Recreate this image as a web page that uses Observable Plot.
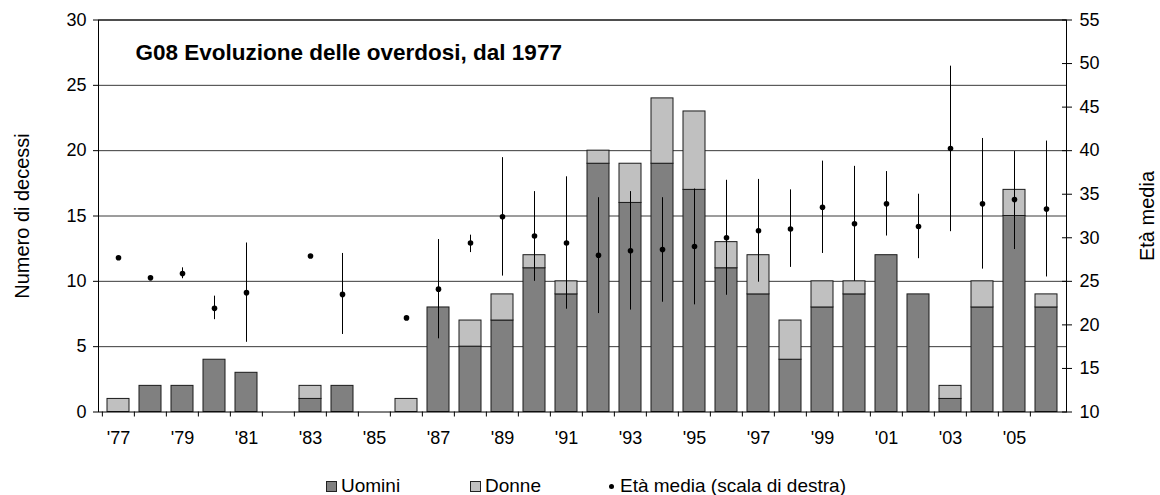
<!DOCTYPE html>
<html>
<head>
<meta charset="utf-8">
<script src="https://cdn.jsdelivr.net/npm/d3@7"></script>
<script src="https://cdn.jsdelivr.net/npm/@observablehq/plot@0.6"></script>
<style>
  html, body { margin: 0; padding: 0; background: #fff; }
  #wrap { position: relative; width: 1160px; height: 495px; font-family: "Liberation Sans", Arial, sans-serif; }
  #legend { position: absolute; left: 0; top: 475px; width: 1160px; height: 24px; font-size: 19px; color: #000; }
  .lg { position: absolute; top: 0; display: flex; align-items: center; white-space: nowrap; }
  .sw { display: inline-block; width: 9px; height: 9px; border: 1px solid #222; margin-right: 4px; }
  .dt { display: inline-block; width: 5px; height: 5px; border-radius: 50%; background: #000; margin-right: 6px; }
</style>
</head>
<body>
<div id="wrap">
  <div id="chart"></div>
  <div id="legend">
    <div class="lg" style="left:326px"><span class="sw" style="background:#808080"></span>Uomini</div>
    <div class="lg" style="left:470px"><span class="sw" style="background:#c0c0c0"></span>Donne</div>
    <div class="lg" style="left:609px"><span class="dt"></span>Età media (scala di destra)</div>
  </div>
</div>
<script>
// ---- data ----
const years = [1977,1978,1979,1980,1981,1982,1983,1984,1985,1986,1987,1988,1989,1990,1991,
               1992,1993,1994,1995,1996,1997,1998,1999,2000,2001,2002,2003,2004,2005,2006];
const uomini = [0,2,2,4,3,0,1,2,0,0,8,5,7,11,9,19,16,19,17,11,9,4,8,9,12,9,1,8,15,8];
const donne  = [1,0,0,0,0,0,1,0,0,1,0,2,2,1,1,1,3,5,6,2,3,3,2,1,0,0,1,2,2,1];
// mean age (null = no deaths), with range (min/max), null where no bar drawn
const etaMedia = [27.7,25.4,25.9,21.9,23.7,null,27.9,23.5,null,20.8,24.1,29.4,32.4,30.2,29.4,
                  28.0,28.5,28.65,29.0,30.0,30.8,31.0,33.5,31.6,33.9,31.3,40.25,33.9,34.4,33.3];
const etaMin = [null,null,25.3,20.6,18.0,null,null,18.9,null,null,18.4,28.3,25.6,25.0,21.8,
                21.3,21.7,22.6,22.3,23.4,24.9,26.6,28.2,25.0,30.2,27.6,30.7,26.4,28.65,25.5];
const etaMax = [null,null,26.55,23.3,29.4,null,null,28.2,null,null,29.8,30.3,39.2,35.3,37.0,
                34.6,35.3,34.6,35.6,36.6,36.7,35.5,38.8,38.2,37.6,35.0,49.7,41.4,39.9,41.1];
const leftTicks = [0,5,10,15,20,25,30];
const rightTicks = [10,15,20,25,30,35,40,45,50,55];
const labelYears = [1977,1979,1981,1983,1985,1987,1989,1991,1993,1995,1997,1999,2001,2003,2005];
const seriesNames = ["Uomini","Donne"];
const titleText = "G08 Evoluzione delle overdosi, dal 1977";
const yTitleLeft = "Numero di decessi";
const yTitleRight = "Età media";

// ---- build tables ----
const bars = [];
years.forEach((y, i) => {
  bars.push({year: y, serie: seriesNames[0], value: uomini[i]});
  bars.push({year: y, serie: seriesNames[1], value: donne[i]});
});
// map right-axis (age 10..55) onto left-axis units (0..30)
const ageToLeft = a => (a - 10) * 30 / 45;
const leftToAge = v => v * 45 / 30 + 10;
const ages = years.map((y, i) => ({year: y, mean: etaMedia[i], lo: etaMin[i], hi: etaMax[i]}));
const ageDots = ages.filter(d => d.mean != null);
const ageRanges = ages.filter(d => d.lo != null);

const W = 1160, ML = 98, MR = 94;
const step = (W - ML - MR) / years.length;

const chart = Plot.plot({
  width: W,
  height: 460,
  marginLeft: ML,
  marginRight: MR,
  marginTop: 19.5,
  marginBottom: 48.5,
  style: {fontFamily: "'Liberation Sans', Arial, sans-serif", fontSize: "18px", color: "#000", background: "#fff"},
  x: {type: "band", domain: years, paddingInner: 0.32, paddingOuter: 0.16},
  y: {domain: [0, 30]},
  color: {domain: seriesNames, range: ["#808080", "#c0c0c0"]},
  marks: [
    Plot.ruleY(leftTicks.filter(t => t > 0), {stroke: "#3a3a3a", strokeWidth: 1}),
    Plot.barY(bars, {x: "year", y: "value", fill: "serie", stroke: "#1a1a1a", strokeWidth: 1, order: seriesNames}),
    Plot.ruleX(ageRanges, {x: "year", y1: d => ageToLeft(d.lo), y2: d => ageToLeft(d.hi), stroke: "#000", strokeWidth: 1}),
    Plot.dot(ageDots, {x: "year", y: d => ageToLeft(d.mean), r: 2.8, fill: "#000", stroke: null}),
    // left axis
    Plot.axisY(leftTicks, {anchor: "left", tickSize: 5, tickPadding: 7, label: null, fontSize: 18}),
    // right axis (age)
    Plot.axisY(rightTicks.map(ageToLeft), {anchor: "right", tickSize: 5, tickPadding: 8, label: null, fontSize: 18, tickFormat: v => String(Math.round(leftToAge(v)))}),
    Plot.axisY(rightTicks.map(ageToLeft), {anchor: "right", tickSize: 5, dx: -5, label: null, tickFormat: () => ""}),
    // x axis
    Plot.axisX(labelYears, {tickSize: 0, tickPadding: 19, label: null, fontSize: 18, tickFormat: y => "'" + String(y).slice(2)}),
    Plot.axisX(years, {tickSize: 5, dx: -step / 2, label: null, tickFormat: () => ""}),
    Plot.frame({stroke: "#000", strokeWidth: 1}),
    // title inside plot
    Plot.text([titleText], {frameAnchor: "top-left", dx: 37, dy: 33, lineAnchor: "middle", fontSize: 22.5, fontWeight: "bold", textAnchor: "start"}),
    // axis titles
    Plot.text([yTitleLeft], {frameAnchor: "left", dx: -76, rotate: -90, textAnchor: "middle", fontSize: 20}),
    Plot.text([yTitleRight], {frameAnchor: "right", dx: 81, rotate: -90, textAnchor: "middle", fontSize: 20})
  ]
});
document.getElementById("chart").appendChild(chart);
</script>
</body>
</html>
